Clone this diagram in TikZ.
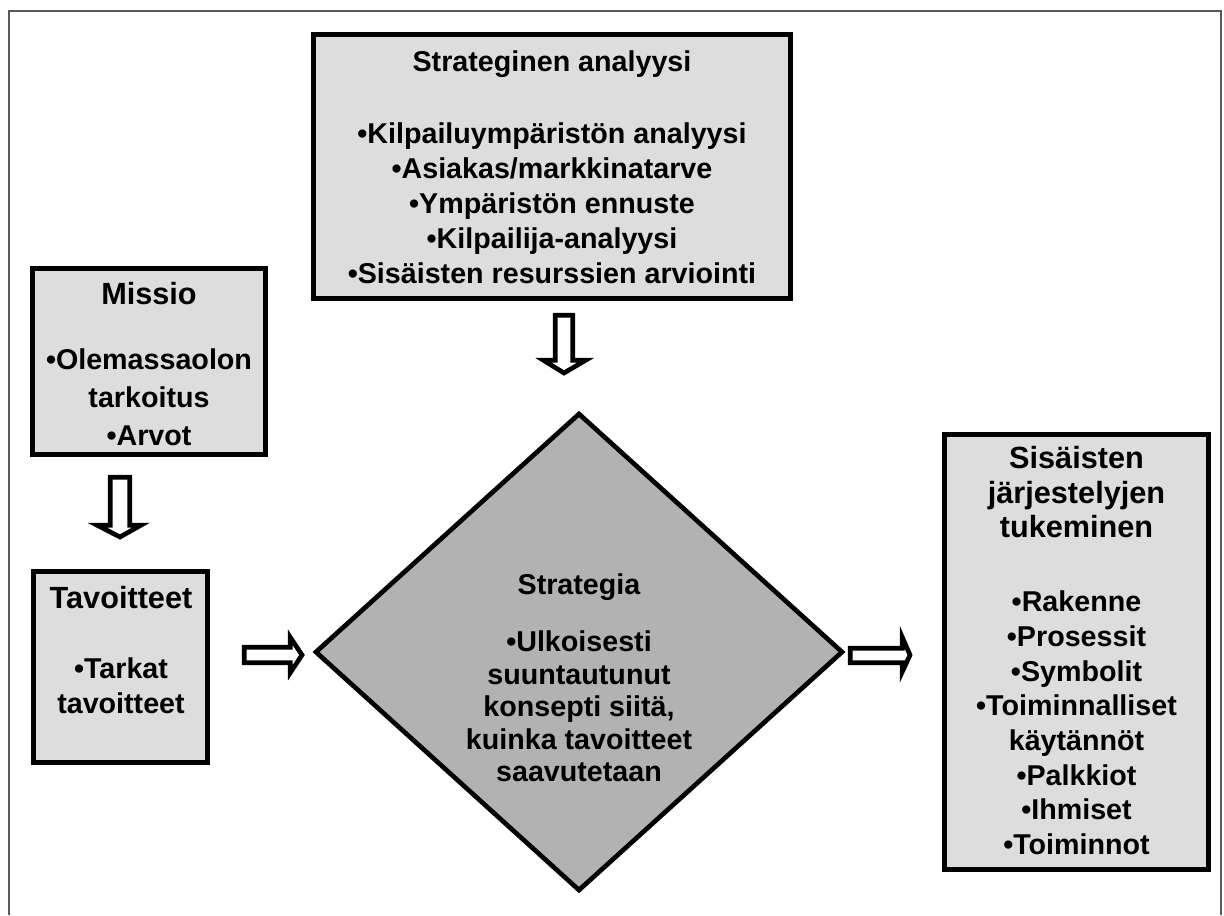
\documentclass[tikz,border=0pt]{standalone}
\usepackage{fontspec}
\setmainfont{Liberation Sans}
\usetikzlibrary{shapes.geometric}
\definecolor{boxgray}{HTML}{DDDDDD}
\definecolor{diagray}{HTML}{B2B2B2}
\definecolor{framegray}{HTML}{5A5A5A}
\newcommand{\ttl}[1]{{\fontsize{23}{26}\selectfont #1}}
\begin{document}
\begin{tikzpicture}[x=0.75pt,y=-0.75pt,
  box/.style={draw=black, fill=boxgray, line width=3.75pt, inner sep=0pt, rectangle},
  txt/.style={font=\fontsize{21.5}{26.25}\selectfont\bfseries, align=center, inner sep=0pt, anchor=north},
  blockarrow/.style={draw=black, fill=white, line width=3.5pt, miter limit=10}
]
\useasboundingbox (0,0) rectangle (1224,915);
\fill[white] (0,0) rectangle (1224,915);
% outer frame, open at the bottom
\draw[framegray, line width=1.5pt] (9,915) -- (9,11) -- (1221,11) -- (1221,915);

% boxes
\node[box, minimum width=357.75pt, minimum height=198pt] (analysis) at (552,166.5) {};
\node[box, minimum width=174.75pt, minimum height=139.5pt] (mission) at (149,361.5) {};
\node[box, minimum width=130.5pt, minimum height=143.25pt] (goals) at (120.5,667) {};
\node[box, minimum width=198pt, minimum height=326.25pt] (support) at (1076.5,652) {};
\node[draw=black, fill=diagray, line width=3.5pt, shape=diamond, inner sep=0pt,
      minimum width=396pt, minimum height=358.5pt] (strategy) at (579,652) {};

% texts
\node[txt] (analysis-t) at (552,50.5)
  {Strateginen analyysi\\[27.75pt]
   •Kilpailuympäristön analyysi\\
   •Asiakas/markkinatarve\\
   •Ympäristön ennuste\\
   •Kilpailija-analyysi\\
   •Sisäisten resurssien arviointi};
\node[txt, font=\fontsize{21.5}{28.5}\selectfont\bfseries] (mission-t) at (149,282)
  {\ttl{Missio}\\[20.25pt]
   •Olemassaolon\\
   tarkoitus\\
   •Arvot};
\node[txt] (goals-t) at (121,586)
  {\ttl{Tavoitteet}\\[26.25pt]
   •Tarkat\\
   tavoitteet};
\node[txt, font=\fontsize{21.5}{26}\selectfont\bfseries] (support-t) at (1076.5,446)
  {\ttl{Sisäisten}\\
   \ttl{järjestelyjen}\\
   \ttl{tukeminen}\\[29.5pt]
   •Rakenne\\
   •Prosessit\\
   •Symbolit\\
   •Toiminnalliset\\
   käytännöt\\
   •Palkkiot\\
   •Ihmiset\\
   •Toiminnot};
\node[txt, font=\fontsize{21.5}{24.4}\selectfont\bfseries] (strategy-t) at (579,573.5)
  {Strategia\\[18.35pt]
   •Ulkoisesti\\
   suuntautunut\\
   konsepti siitä,\\
   kuinka tavoitteet\\
   saavutetaan};

% block arrows between the boxes
\draw[blockarrow] (555.3,315.3) -- (572.7,315.3) -- (572.7,360.3) -- (585.5,360.3) -- (564,373)
  -- (543.5,360.3) -- (555.3,360.3) -- cycle;
\draw[blockarrow] (110.3,477.3) -- (129.7,477.3) -- (129.7,525.3) -- (140.7,525.3) -- (120,537)
  -- (97.3,525.3) -- (110.3,525.3) -- cycle;
\draw[blockarrow] (244.3,647.3) -- (290.3,647.3) -- (290.3,637.3) -- (302,655) -- (290.3,672.7)
  -- (290.3,662.7) -- (244.3,662.7) -- cycle;
\draw[blockarrow] (850.3,648.3) -- (902.3,648.3) -- (902.3,637.3) -- (910,655) -- (902.3,671.7)
  -- (902.3,662.7) -- (850.3,662.7) -- cycle;
\end{tikzpicture}
\end{document}
